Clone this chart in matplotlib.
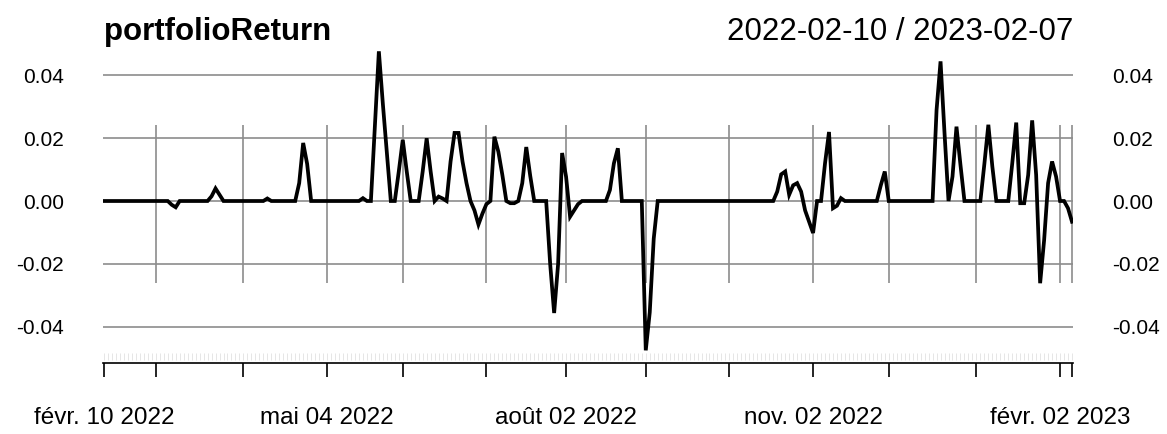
import numpy as np
import pandas as pd
import matplotlib
matplotlib.use("Agg")
import matplotlib.pyplot as plt

plt.rcParams['font.family'] = ['Liberation Sans', 'DejaVu Sans']

title = "portfolioReturn"
start_day = "2022-02-10"
end_day = "2023-02-07"
# days with no observation in the series
missing_days = ["2022-03-21", "2022-05-02", "2022-05-03", "2022-05-26", "2022-06-06",
                "2022-07-14", "2022-08-01", "2022-08-15", "2022-08-29", "2022-09-05",
                "2022-11-01", "2022-11-11", "2022-11-24", "2023-01-02", "2023-02-01"]
mois = ["janv.", "févr.", "mars", "avr.", "mai", "juin",
        "juil.", "août", "sept.", "oct.", "nov.", "déc."]
label_months = [2, 5, 8, 11]

returns = [
    0, 0, 0, 0, 0, 0, 0, 0, 0, 0,
    0, 0, 0, 0, 0, 0, 0, -0.0012, -0.002, 0,
    0, 0, 0, 0, 0, 0, 0, 0.0015, 0.004, 0.002,
    0, 0, 0, 0, 0, 0, 0, 0, 0, 0,
    0, 0.0008, 0, 0, 0, 0, 0, 0, 0, 0.0057,
    0.0185, 0.0118, 0, 0, 0, 0, 0, 0, 0, 0,
    0, 0, 0, 0, 0, 0.0009, 0, 0, 0.0236, 0.0477,
    0.031, 0.0157, 0, 0, 0.0094, 0.0195, 0.0094, 0, 0, 0,
    0.0094, 0.020, 0.0094, 0, 0.0014, 0.0008, 0, 0.0126, 0.0217, 0.0217,
    0.0126, 0.0057, 0, -0.003, -0.0075, -0.004, -0.001, 0, 0.0205, 0.0157,
    0.0083, 0, -0.0007, -0.0007, 0, 0.0057, 0.0172, 0.008, 0, 0,
    0, 0, -0.02, -0.0357, -0.02, 0.0153, 0.0077, -0.005, -0.003, -0.001,
    0, 0, 0, 0, 0, 0, 0, 0.0035, 0.012, 0.0168,
    0, 0, 0, 0, 0, 0, -0.0476, -0.0355, -0.012, 0,
    0, 0, 0, 0, 0, 0, 0, 0, 0, 0,
    0, 0, 0, 0, 0, 0, 0, 0, 0, 0,
    0, 0, 0, 0, 0, 0, 0, 0, 0, 0.003,
    0.0085, 0.0094, 0.002, 0.005, 0.0057, 0.003, -0.003, -0.0066, -0.0102, 0,
    0, 0.012, 0.022, -0.0023, -0.0015, 0.0009, 0, 0, 0, 0,
    0, 0, 0, 0, 0, 0.005, 0.0094, 0, 0, 0,
    0, 0, 0, 0, 0, 0, 0, 0, 0, 0.029,
    0.0445, 0.0216, 0, 0.0078, 0.0237, 0.0115, 0, 0, 0, 0,
    0, 0.0118, 0.0243, 0.011, 0, 0, 0, 0, 0.012, 0.025,
    -0.0007, -0.0007, 0.0083, 0.0257, 0.0083, -0.0262, -0.0125, 0.0057, 0.0126, 0.0078,
    0, 0, -0.0023, -0.0066,
]

ytick_vals = [0.04, 0.02, 0.00, -0.02, -0.04]
ytick_labels = ["0.04", "0.02", "0.00", "-0.02", "-0.04"]

dates = pd.bdate_range(start_day, end_day)
dates = dates[~dates.isin(pd.to_datetime(missing_days))]
n = min(len(dates), len(returns))
dates = dates[:n]
y = np.array(returns[:n])
x = np.arange(n)

# first observation of each month
month_starts = [i for i in range(1, n) if dates[i].month != dates[i - 1].month]
grid_pos = month_starts + [n - 1]
tick_pos = [0] + month_starts + [n - 1]
lab_pos = [0] + [i for i in month_starts if dates[i].month in label_months]
lab_txt = [f"{mois[dates[i].month - 1]} {dates[i].day:02d} {dates[i].year}" for i in lab_pos]

W, H = 1167, 434
fig = plt.figure(figsize=(W / 100, H / 100), dpi=100)
ax = fig.add_axes([103 / W, 1 - 363 / H, 970 / W, 318 / H])

grid_col = "#8c8c8c"
for v in ytick_vals:
    ax.axhline(v, color=grid_col, lw=1.2, zorder=1)
ax.vlines(grid_pos, -0.0262, 0.0243, color=grid_col, lw=1.2, zorder=1)
ax.vlines(x, -0.0507, -0.0484, color="#e2e2e2", lw=0.6, zorder=1)

ax.plot(x, y, color="black", lw=2.7, zorder=3, solid_joinstyle="miter")

ax.set_xlim(-0.25, n - 1 + 0.25)
ax.set_ylim(-0.05163, 0.04972)

for s in ["top", "left", "right"]:
    ax.spines[s].set_visible(False)
ax.spines["bottom"].set_color("black")
ax.spines["bottom"].set_linewidth(1.2)

ax.set_xticks(tick_pos, [""] * len(tick_pos))
ax.tick_params(axis="x", direction="out", length=10, width=1.2, color="black")
for p, t in zip(lab_pos, lab_txt):
    ax.text(p, -0.0655, t, ha="center", va="top", fontsize=17.5,
            transform=ax.transData, clip_on=False)

ax.set_yticks(ytick_vals, ytick_labels)
ax.tick_params(axis="y", length=0, pad=28, labelsize=15, labelright=True)

fig.text(104 / W, 1 - 32 / H, title, fontsize=22.5, fontweight="bold",
         ha="left", va="center")
fig.text(1073 / W, 1 - 32 / H, f"{dates[0]:%Y-%m-%d} / {dates[-1]:%Y-%m-%d}",
         fontsize=22.5, ha="right", va="center")

fig.savefig("out.png", dpi=100)
